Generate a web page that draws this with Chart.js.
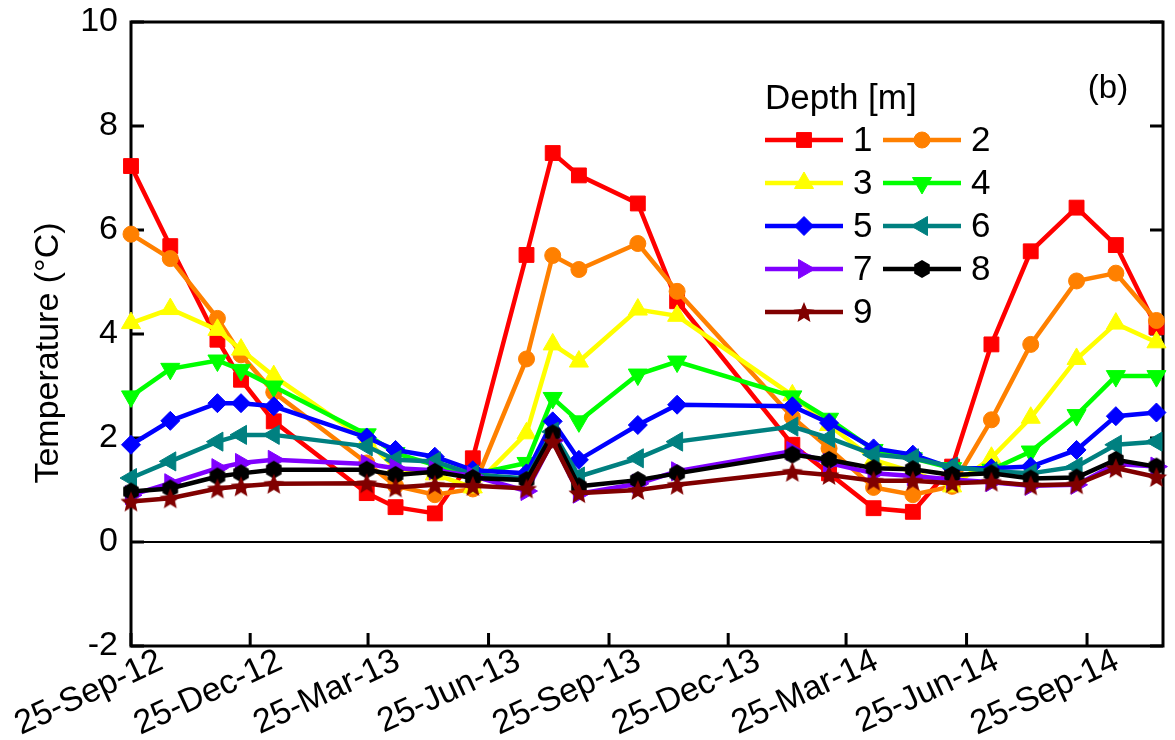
<!DOCTYPE html>
<html>
<head>
<meta charset="utf-8">
<script src="https://cdn.jsdelivr.net/npm/chart.js"></script>
<style>
  html, body { margin: 0; padding: 0; background: #fff; }
  #wrap { width: 1175px; height: 740px; }
</style>
</head>
<body>
<div id="wrap"><canvas id="grafico" width="1175" height="740"></canvas></div>
<script>
// sampling dates
const dates = ['2012-09-25', '2012-10-25', '2012-11-30', '2012-12-18', '2013-01-12', '2013-03-24',
  '2013-04-15', '2013-05-15', '2013-06-13', '2013-07-24', '2013-08-13', '2013-09-02',
  '2013-10-17', '2013-11-16', '2014-02-12', '2014-03-12', '2014-04-15', '2014-05-15',
  '2014-06-14', '2014-07-14', '2014-08-13', '2014-09-17', '2014-10-17', '2014-11-17'];

// temperature per depth (°C)
const depth1 = [7.23, 5.69, 3.89, 3.12, 2.32, 0.94, 0.67, 0.55, 1.61, 5.52, 7.48, 7.05, 6.51, 4.63, 1.87, 1.32, 0.65, 0.58, 1.45, 3.80, 5.59, 6.43, 5.71, 4.13];
const depth2 = [5.92, 5.45, 4.30, 3.60, 2.88, 1.52, 1.08, 0.91, 1.02, 3.52, 5.51, 5.24, 5.74, 4.82, 2.40, 1.80, 1.05, 0.91, 1.07, 2.35, 3.80, 5.02, 5.17, 4.26];
const depth3 = [4.21, 4.48, 4.08, 3.70, 3.19, 1.95, 1.42, 1.30, 1.05, 2.09, 3.80, 3.47, 4.47, 4.35, 2.82, 2.25, 1.58, 1.35, 1.07, 1.62, 2.39, 3.52, 4.20, 3.84];
const depth4 = [2.80, 3.33, 3.49, 3.31, 2.99, 2.07, 1.71, 1.48, 1.30, 1.52, 2.77, 2.32, 3.22, 3.47, 2.80, 2.37, 1.77, 1.61, 1.42, 1.39, 1.74, 2.44, 3.19, 3.19];
const depth5 = [1.87, 2.33, 2.67, 2.67, 2.61, 2.01, 1.77, 1.64, 1.38, 1.32, 2.32, 1.58, 2.25, 2.64, 2.61, 2.29, 1.80, 1.68, 1.42, 1.42, 1.45, 1.77, 2.42, 2.49];
const depth6 = [1.23, 1.55, 1.93, 2.06, 2.06, 1.84, 1.58, 1.55, 1.30, 1.22, 2.12, 1.26, 1.61, 1.93, 2.22, 2.00, 1.68, 1.61, 1.45, 1.36, 1.32, 1.45, 1.87, 1.93];
const depth7 = [0.90, 1.13, 1.42, 1.52, 1.58, 1.50, 1.42, 1.38, 1.27, 0.98, 1.95, 0.93, 1.12, 1.36, 1.75, 1.52, 1.32, 1.27, 1.20, 1.15, 1.08, 1.10, 1.50, 1.45];
const depth8 = [0.97, 1.03, 1.26, 1.32, 1.39, 1.39, 1.29, 1.35, 1.23, 1.19, 2.09, 1.07, 1.19, 1.32, 1.68, 1.58, 1.42, 1.40, 1.29, 1.32, 1.22, 1.24, 1.58, 1.45];
const depth9 = [0.78, 0.84, 1.03, 1.07, 1.12, 1.13, 1.05, 1.10, 1.08, 1.03, 1.93, 0.94, 1.00, 1.10, 1.35, 1.29, 1.18, 1.18, 1.13, 1.16, 1.09, 1.11, 1.42, 1.25];

const depthLabels = ['1', '2', '3', '4', '5', '6', '7', '8', '9'];
const tickDates = ['2012-09-25', '2012-12-25', '2013-03-25', '2013-06-25', '2013-09-25',
  '2013-12-25', '2014-03-25', '2014-06-25', '2014-09-25'];
const tickLabels = ['25-Sep-12', '25-Dec-12', '25-Mar-13', '25-Jun-13', '25-Sep-13',
  '25-Dec-13', '25-Mar-14', '25-Jun-14', '25-Sep-14'];
const axisEnd = '2014-11-22';

const series = [depth1, depth2, depth3, depth4, depth5, depth6, depth7, depth8, depth9];

// days since the first tick date
const origem = Date.UTC(2012, 8, 25);
function dia(s) {
  const p = s.split('-');
  return Math.round((Date.UTC(+p[0], +p[1] - 1, +p[2]) - origem) / 86400000);
}
const tickDays = tickDates.map(dia);

// custom markers
function hexagono(cor, r) {
  const c = document.createElement('canvas');
  const s = Math.ceil(2 * r + 2);
  c.width = c.height = s;
  const g = c.getContext('2d');
  g.fillStyle = cor;
  g.beginPath();
  for (let i = 0; i < 6; i++) {
    const a = Math.PI / 3 * i - Math.PI / 2;
    g.lineTo(s / 2 + r * Math.cos(a), s / 2 + r * Math.sin(a));
  }
  g.closePath();
  g.fill();
  return c;
}
function estrela(cor, r) {
  const c = document.createElement('canvas');
  const s = Math.ceil(2 * r + 2);
  c.width = c.height = s;
  const g = c.getContext('2d');
  g.fillStyle = cor;
  g.beginPath();
  for (let i = 0; i < 10; i++) {
    const a = Math.PI / 5 * i - Math.PI / 2;
    const rr = i % 2 ? r * 0.45 : r;
    g.lineTo(s / 2 + rr * Math.cos(a), s / 2 + rr * Math.sin(a) + r * 0.1);
  }
  g.closePath();
  g.fill();
  return c;
}

const cores = ['#ff0000', '#ff8000', '#ffff00', '#00ff00', '#0000ff', '#008080', '#8000ff', '#000000', '#800000'];
const marcadores = [
  { pointStyle: 'rect', radius: 10.5, rotation: 0 },
  { pointStyle: 'circle', radius: 8, rotation: 0 },
  { pointStyle: 'triangle', radius: 11, rotation: 0 },
  { pointStyle: 'triangle', radius: 11, rotation: 180 },
  { pointStyle: 'rectRot', radius: 9.5, rotation: 0 },
  { pointStyle: 'triangle', radius: 11, rotation: 270 },
  { pointStyle: 'triangle', radius: 11, rotation: 90 },
  { pointStyle: hexagono('#000000', 9), radius: 9, rotation: 0 },
  { pointStyle: estrela('#800000', 11), radius: 11, rotation: 0 }
];

const fonte = "'Liberation Sans', Arial, sans-serif";
Chart.defaults.font.family = fonte;
Chart.defaults.color = '#000';

const datasets = series.map((vals, i) => ({
  label: depthLabels[i],
  data: vals.map((v, j) => ({ x: dia(dates[j]), y: v })),
  borderColor: cores[i],
  backgroundColor: cores[i],
  borderWidth: 4.5,
  pointStyle: marcadores[i].pointStyle,
  pointRadius: marcadores[i].radius,
  pointRotation: marcadores[i].rotation,
  pointBackgroundColor: cores[i],
  pointBorderColor: cores[i],
  pointBorderWidth: 1,
  tension: 0,
  clip: false,
  order: 10 - i
}));

// frame, inner ticks, y title, legend
const moldura = {
  id: 'moldura',
  beforeDatasetsDraw(chart) {
    const { ctx, chartArea: a, scales: { x, y } } = chart;
    ctx.save();
    ctx.strokeStyle = '#000';
    ctx.lineWidth = 3;
    ctx.strokeRect(a.left, a.top, a.right - a.left, a.bottom - a.top);
    ctx.beginPath();
    x.ticks.forEach(t => {
      const px = x.getPixelForValue(t.value);
      ctx.moveTo(px, a.bottom);
      ctx.lineTo(px, a.bottom - 13);
    });
    y.ticks.forEach(t => {
      const py = y.getPixelForValue(t.value);
      ctx.moveTo(a.left, py);
      ctx.lineTo(a.left + 13, py);
      ctx.moveTo(a.right, py);
      ctx.lineTo(a.right - 13, py);
    });
    ctx.stroke();
    ctx.restore();
  },
  afterDraw(chart) {
    const ctx = chart.ctx;
    ctx.save();
    ctx.fillStyle = '#000';

    // y title
    ctx.font = '34px ' + fonte;
    ctx.textAlign = 'center';
    ctx.textBaseline = 'middle';
    ctx.translate(49, 353);
    ctx.rotate(-Math.PI / 2);
    ctx.fillText('Temperature (°C)', 0, 0);
    ctx.setTransform(1, 0, 0, 1, 0, 0);

    // panel tag
    ctx.font = '33px ' + fonte;
    ctx.fillText('(b)', 1108, 89);

    // legend
    ctx.textAlign = 'left';
    ctx.font = '35px ' + fonte;
    ctx.fillText('Depth [m]', 765, 99);
    const colX = [765, 883];
    for (let i = 0; i < series.length; i++) {
      const x0 = colX[i % 2];
      const y0 = 140 + Math.floor(i / 2) * 43;
      ctx.strokeStyle = cores[i];
      ctx.lineWidth = 4.5;
      ctx.beginPath();
      ctx.moveTo(x0, y0);
      ctx.lineTo(x0 + 78, y0);
      ctx.stroke();
      ctx.fillStyle = cores[i];
      ctx.strokeStyle = cores[i];
      ctx.lineWidth = 1;
      Chart.helpers.drawPoint(ctx, {
        pointStyle: marcadores[i].pointStyle,
        radius: marcadores[i].radius,
        rotation: marcadores[i].rotation,
        borderWidth: 1
      }, x0 + 39, y0);
      ctx.fillStyle = '#000';
      ctx.fillText(depthLabels[i], x0 + 88, y0 + 1);
    }
    ctx.restore();
  }
};

const ctx = document.getElementById('grafico').getContext('2d');
const grafico = new Chart(ctx, {
  type: 'line',
  data: { datasets: datasets },
  options: {
    responsive: false,
    animation: false,
    layout: { padding: { left: 0, right: 12, top: 22, bottom: 0 } },
    plugins: {
      legend: { display: false },
      tooltip: { enabled: false }
    },
    scales: {
      x: {
        type: 'linear',
        min: 0,
        max: dia(axisEnd),
        afterBuildTicks: (scale) => {
          scale.ticks = tickDays.map(v => ({ value: v }));
        },
        afterFit: (scale) => {
          scale.height = 94;
          scale.paddingLeft = 0;
          scale.paddingRight = 0;
        },
        grid: { display: false, drawTicks: false },
        border: { display: false },
        ticks: {
          autoSkip: false,
          minRotation: 25,
          maxRotation: 25,
          padding: -5,
          labelOffset: 30,
          font: { size: 34 },
          callback: (value) => tickLabels[tickDays.indexOf(value)]
        }
      },
      y: {
        min: -2,
        max: 10,
        afterFit: (scale) => {
          scale.width = 131;
          scale.paddingTop = 0;
          scale.paddingBottom = 0;
        },
        grid: {
          drawTicks: false,
          color: (c) => c.tick && c.tick.value === 0 ? '#000' : 'rgba(0,0,0,0)',
          lineWidth: 2
        },
        border: { display: false },
        ticks: {
          stepSize: 2,
          padding: 13,
          font: { size: 34 }
        }
      }
    }
  },
  plugins: [moldura]
});
</script>
</body>
</html>
